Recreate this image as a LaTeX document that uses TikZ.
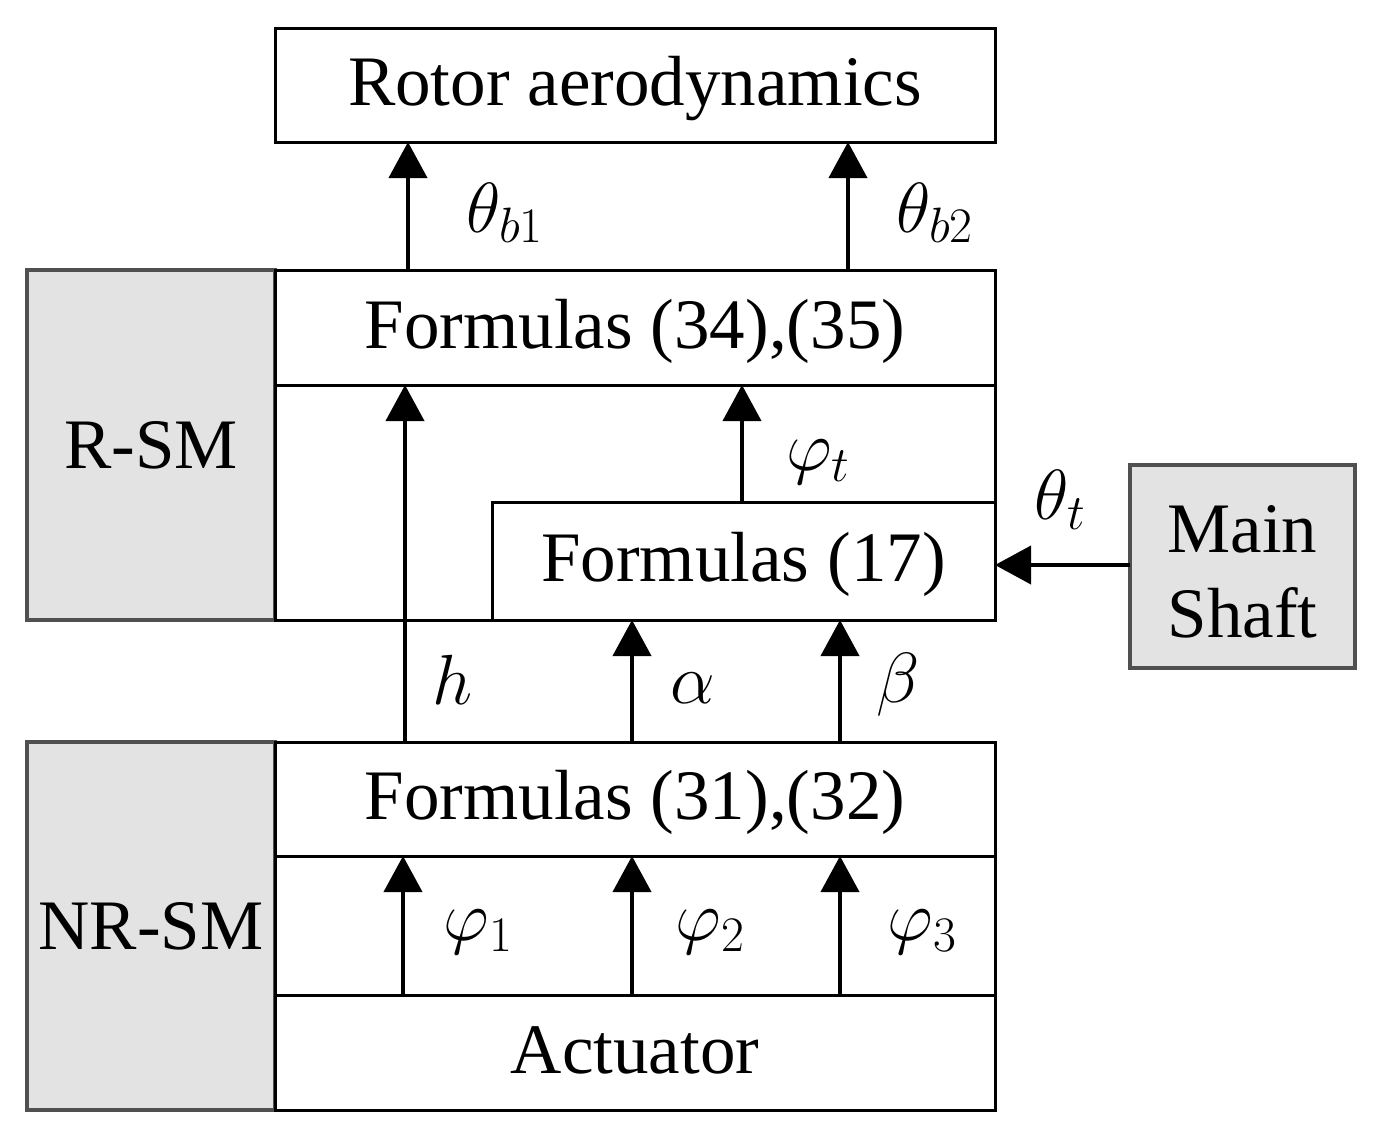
\documentclass[tikz,border=0pt]{standalone}
\usepackage{fix-cm}
\usepackage{fontspec}
\setmainfont{Liberation Serif}
\usetikzlibrary{arrows.meta}
\definecolor{gfill}{HTML}{E3E3E3}
\definecolor{gline}{HTML}{505050}
\begin{document}
\begin{tikzpicture}[x=1pt,y=-1pt,
  box/.style={draw=black,line width=3pt,fill=white,inner sep=0pt,outer sep=0pt,text height=44pt,text depth=3pt,font=\fontsize{71}{85}\selectfont},
  gbox/.style={draw=gline,line width=3.5pt,fill=gfill,inner sep=0pt,outer sep=0pt,align=center,font=\fontsize{71}{85}\selectfont},
  arr/.style={line width=4pt,-{Triangle[width=38pt,length=36pt]}},
  lbl/.style={font=\fontsize{71}{85}\selectfont,inner sep=0pt}]
\useasboundingbox (0,0) rectangle (1376,1136);
% top
\node[box,minimum width=720,minimum height=114] (rotor) at (635,85) {Rotor aerodynamics};
% R-SM
\node[gbox,minimum width=248,minimum height=350] (rsm) at (151,445) {R-SM};
\node[box,minimum width=720,minimum height=350] (rsmbody) at (635,445) {};
\node[box,minimum width=720,minimum height=115] (f3435) at (635,327.5) {Formulas (34),(35)};
\node[box,minimum width=503,minimum height=118] (f17) at (743.5,561) {Formulas (17)};
% Main shaft
\node[gbox,minimum width=225,minimum height=203] (shaft) at (1242.5,566.5) {\rule{0pt}{58pt}Main\\Shaft};
% NR-SM
\node[gbox,minimum width=248,minimum height=368] (nrsm) at (151,926) {NR-SM};
\node[box,minimum width=720,minimum height=368] (nrbody) at (635,926) {};
\node[box,minimum width=720,minimum height=114] (f3132) at (635,799) {Formulas (31),(32)};
\node[box,minimum width=720,minimum height=115] (act) at (635,1052.5) {Actuator};
% columns
\coordinate (xa) at (408,0);
\coordinate (xb) at (848,0);
\coordinate (xh) at (405,0);
\coordinate (xt) at (742,0);
\coordinate (xal) at (632,0);
\coordinate (xbe) at (840,0);
\coordinate (x1) at (403,0);
\coordinate (x2) at (632,0);
\coordinate (x3) at (840,0);
\coordinate (yt) at (0,565);
% arrows
\draw[arr] (rsmbody.north -| xa) -- (rotor.south -| xa);
\draw[arr] (rsmbody.north -| xb) -- (rotor.south -| xb);
\draw[arr] (f3132.north -| xh) -- (f3435.south -| xh);
\draw[arr] (f17.north -| xt) -- (f3435.south -| xt);
\draw[arr] (f3132.north -| xal) -- (f17.south -| xal);
\draw[arr] (f3132.north -| xbe) -- (f17.south -| xbe);
\draw[arr] (act.north -| x1) -- (f3132.south -| x1);
\draw[arr] (act.north -| x2) -- (f3132.south -| x2);
\draw[arr] (act.north -| x3) -- (f3132.south -| x3);
\draw[arr] (shaft.west |- yt) -- (f17.east |- yt);
% labels
\node[lbl] (lb1) at (505,213) {$\theta_{b1}$};
\node[lbl] (lb2) at (935,213) {$\theta_{b2}$};
\node[lbl] (lpt) at (818,462) {$\varphi_t$};
\node[lbl] (ltt) at (1060,500) {$\theta_t$};
\node[lbl] (lh) at (453,680) {$h$};
\node[lbl] (lal) at (693,688) {$\alpha$};
\node[lbl] (lbe) at (898,685) {$\beta$};
\node[lbl] (lp1) at (478,932) {$\varphi_1$};
\node[lbl] (lp2) at (710,932) {$\varphi_2$};
\node[lbl] (lp3) at (922,932) {$\varphi_3$};
\end{tikzpicture}
\end{document}
